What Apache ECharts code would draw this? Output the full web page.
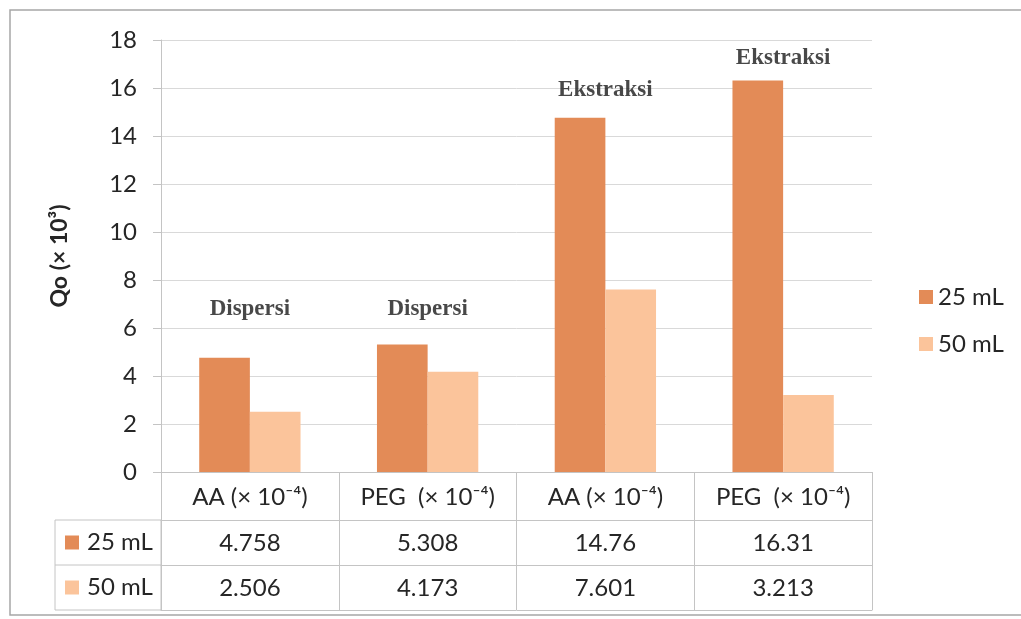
<!DOCTYPE html>
<html>
<head>
<meta charset="utf-8">
<script src="https://cdn.jsdelivr.net/npm/echarts@6/dist/echarts.min.js"></script>
<style>
  html, body { margin: 0; padding: 0; background: #ffffff; }
  #chart { width: 1021px; height: 619px; }
</style>
</head>
<body>
<div id="chart"></div>
<script>
// Category headers (also the table header row)
const categories = ['AA (× 10⁻⁴)', 'PEG  (× 10⁻⁴)', 'AA (× 10⁻⁴)', 'PEG  (× 10⁻⁴)'];
// Series
const seriesNames = ['25 mL', '50 mL'];
const values25 = [4.758, 5.308, 14.76, 16.31];
const values50 = [2.506, 4.173, 7.601, 3.213];
// Y axis ticks
const yMin = 0, yMax = 18, yStep = 2;
// Group annotations and the axis value they sit at
const annotations = ['Dispersi', 'Dispersi', 'Ekstraksi', 'Ekstraksi'];
const annotationAt = [6.8, 6.8, 15.9, 17.25];

const colors = ['#E38B57', '#FBC49B'];
const textColor = '#262626';
const gridColor = '#D9D9D9';
const tableLine = '#C4C4C4';
const font = 'Lato, "Open Sans", sans-serif';
const fs = 24;

const grid = { left: 161, right: 149, top: 40, bottom: 147 };
const rowH = 45;          // height of a value row in the table
const headerH = 48;       // height of the header row
const labelColLeft = 55;  // left edge of the series-name column

const chart = echarts.init(document.getElementById('chart'), null, { renderer: 'canvas' });

const axisBase = {
  type: 'category',
  data: categories,
  gridIndex: 0,
  position: 'bottom',
  axisTick: { show: false },
  splitLine: { show: false }
};

const tableTop = 619 - grid.bottom;
const graphics = [
  // outer frame
  { type: 'rect', shape: { x: 10, y: 10, width: 1020, height: 605 },
    style: { fill: 'none', stroke: '#A6A6A6', lineWidth: 1.5 }, silent: true },
  // series name column of the table
  { type: 'rect', shape: { x: labelColLeft, y: tableTop + headerH, width: grid.left - labelColLeft, height: rowH * 2 },
    style: { fill: 'none', stroke: tableLine, lineWidth: 1 }, silent: true },
  { type: 'line', shape: { x1: labelColLeft, y1: tableTop + headerH + rowH, x2: grid.left, y2: tableTop + headerH + rowH },
    style: { stroke: tableLine, lineWidth: 1 }, silent: true }
];
seriesNames.forEach(function (name, i) {
  const cy = tableTop + headerH + rowH * i + rowH / 2;
  graphics.push({ type: 'rect', shape: { x: 65, y: cy - 7, width: 14, height: 14 },
    style: { fill: colors[i] }, silent: true });
  graphics.push({ type: 'text', x: 87, y: cy,
    style: { text: name, fill: textColor, font: fs + 'px ' + font, textVerticalAlign: 'middle' }, silent: true });
});

const labelStyle = { fontSize: fs, color: textColor, fontFamily: font, lineHeight: 26 };

const option = {
  animation: false,
  backgroundColor: '#ffffff',
  color: colors,
  textStyle: { fontFamily: font, color: textColor },
  grid: grid,
  legend: {
    data: seriesNames,
    orient: 'vertical',
    left: 914,
    top: 279,
    icon: 'rect',
    itemWidth: 14,
    itemHeight: 14,
    itemGap: 21,
    textStyle: { fontSize: fs, color: textColor, fontFamily: font, lineHeight: 26 }
  },
  xAxis: [
    Object.assign({}, axisBase, {
      axisLine: { show: true, lineStyle: { color: tableLine, width: 1 } },
      axisTick: { show: true, interval: 0, length: headerH + rowH * 2, lineStyle: { color: tableLine } },
      axisLabel: Object.assign({ interval: 0, margin: 12 }, labelStyle)
    }),
    Object.assign({}, axisBase, {
      offset: headerH,
      axisLine: { show: true, lineStyle: { color: tableLine, width: 1 } },
      axisLabel: Object.assign({ interval: 0, margin: 10,
        formatter: function (v, i) { return String(values25[i]); } }, labelStyle)
    }),
    Object.assign({}, axisBase, {
      offset: headerH + rowH,
      axisLine: { show: true, lineStyle: { color: tableLine, width: 1 } },
      axisLabel: Object.assign({ interval: 0, margin: 10,
        formatter: function (v, i) { return String(values50[i]); } }, labelStyle)
    }),
    Object.assign({}, axisBase, {
      offset: headerH + rowH * 2,
      axisLine: { show: true, lineStyle: { color: tableLine, width: 1 } },
      axisLabel: { show: false }
    })
  ],
  yAxis: {
    type: 'value',
    min: yMin,
    max: yMax,
    interval: yStep,
    name: 'Qo (× 10³)',
    nameLocation: 'middle',
    nameRotate: 90,
    nameGap: 90,
    nameTextStyle: { fontSize: 23, fontWeight: 'bold', color: textColor, fontFamily: font },
    axisLine: { show: true, lineStyle: { color: tableLine, width: 1 } },
    axisTick: { show: true, length: 8, lineStyle: { color: tableLine } },
    axisLabel: { margin: 24, fontSize: fs, color: textColor, fontFamily: font },
    splitLine: { show: true, lineStyle: { color: gridColor, width: 1 } }
  },
  series: [
    {
      name: seriesNames[0], type: 'bar', data: values25,
      barGap: '0%', barCategoryGap: '43%',
      itemStyle: { color: colors[0] }
    },
    {
      name: seriesNames[1], type: 'bar', data: values50,
      barGap: '0%', barCategoryGap: '43%',
      itemStyle: { color: colors[1] }
    },
    {
      name: 'annotations', type: 'scatter', silent: true,
      symbolSize: 0,
      data: annotations.map(function (t, i) { return [i, annotationAt[i]]; }),
      label: {
        show: true, position: 'inside',
        formatter: function (p) { return annotations[p.dataIndex]; },
        fontFamily: '"Liberation Serif", "DejaVu Serif", serif',
        fontSize: 23, fontWeight: 'bold', color: '#1a1a1a'
      }
    }
  ],
  graphic: graphics
};

chart.setOption(option);
</script>
</body>
</html>
